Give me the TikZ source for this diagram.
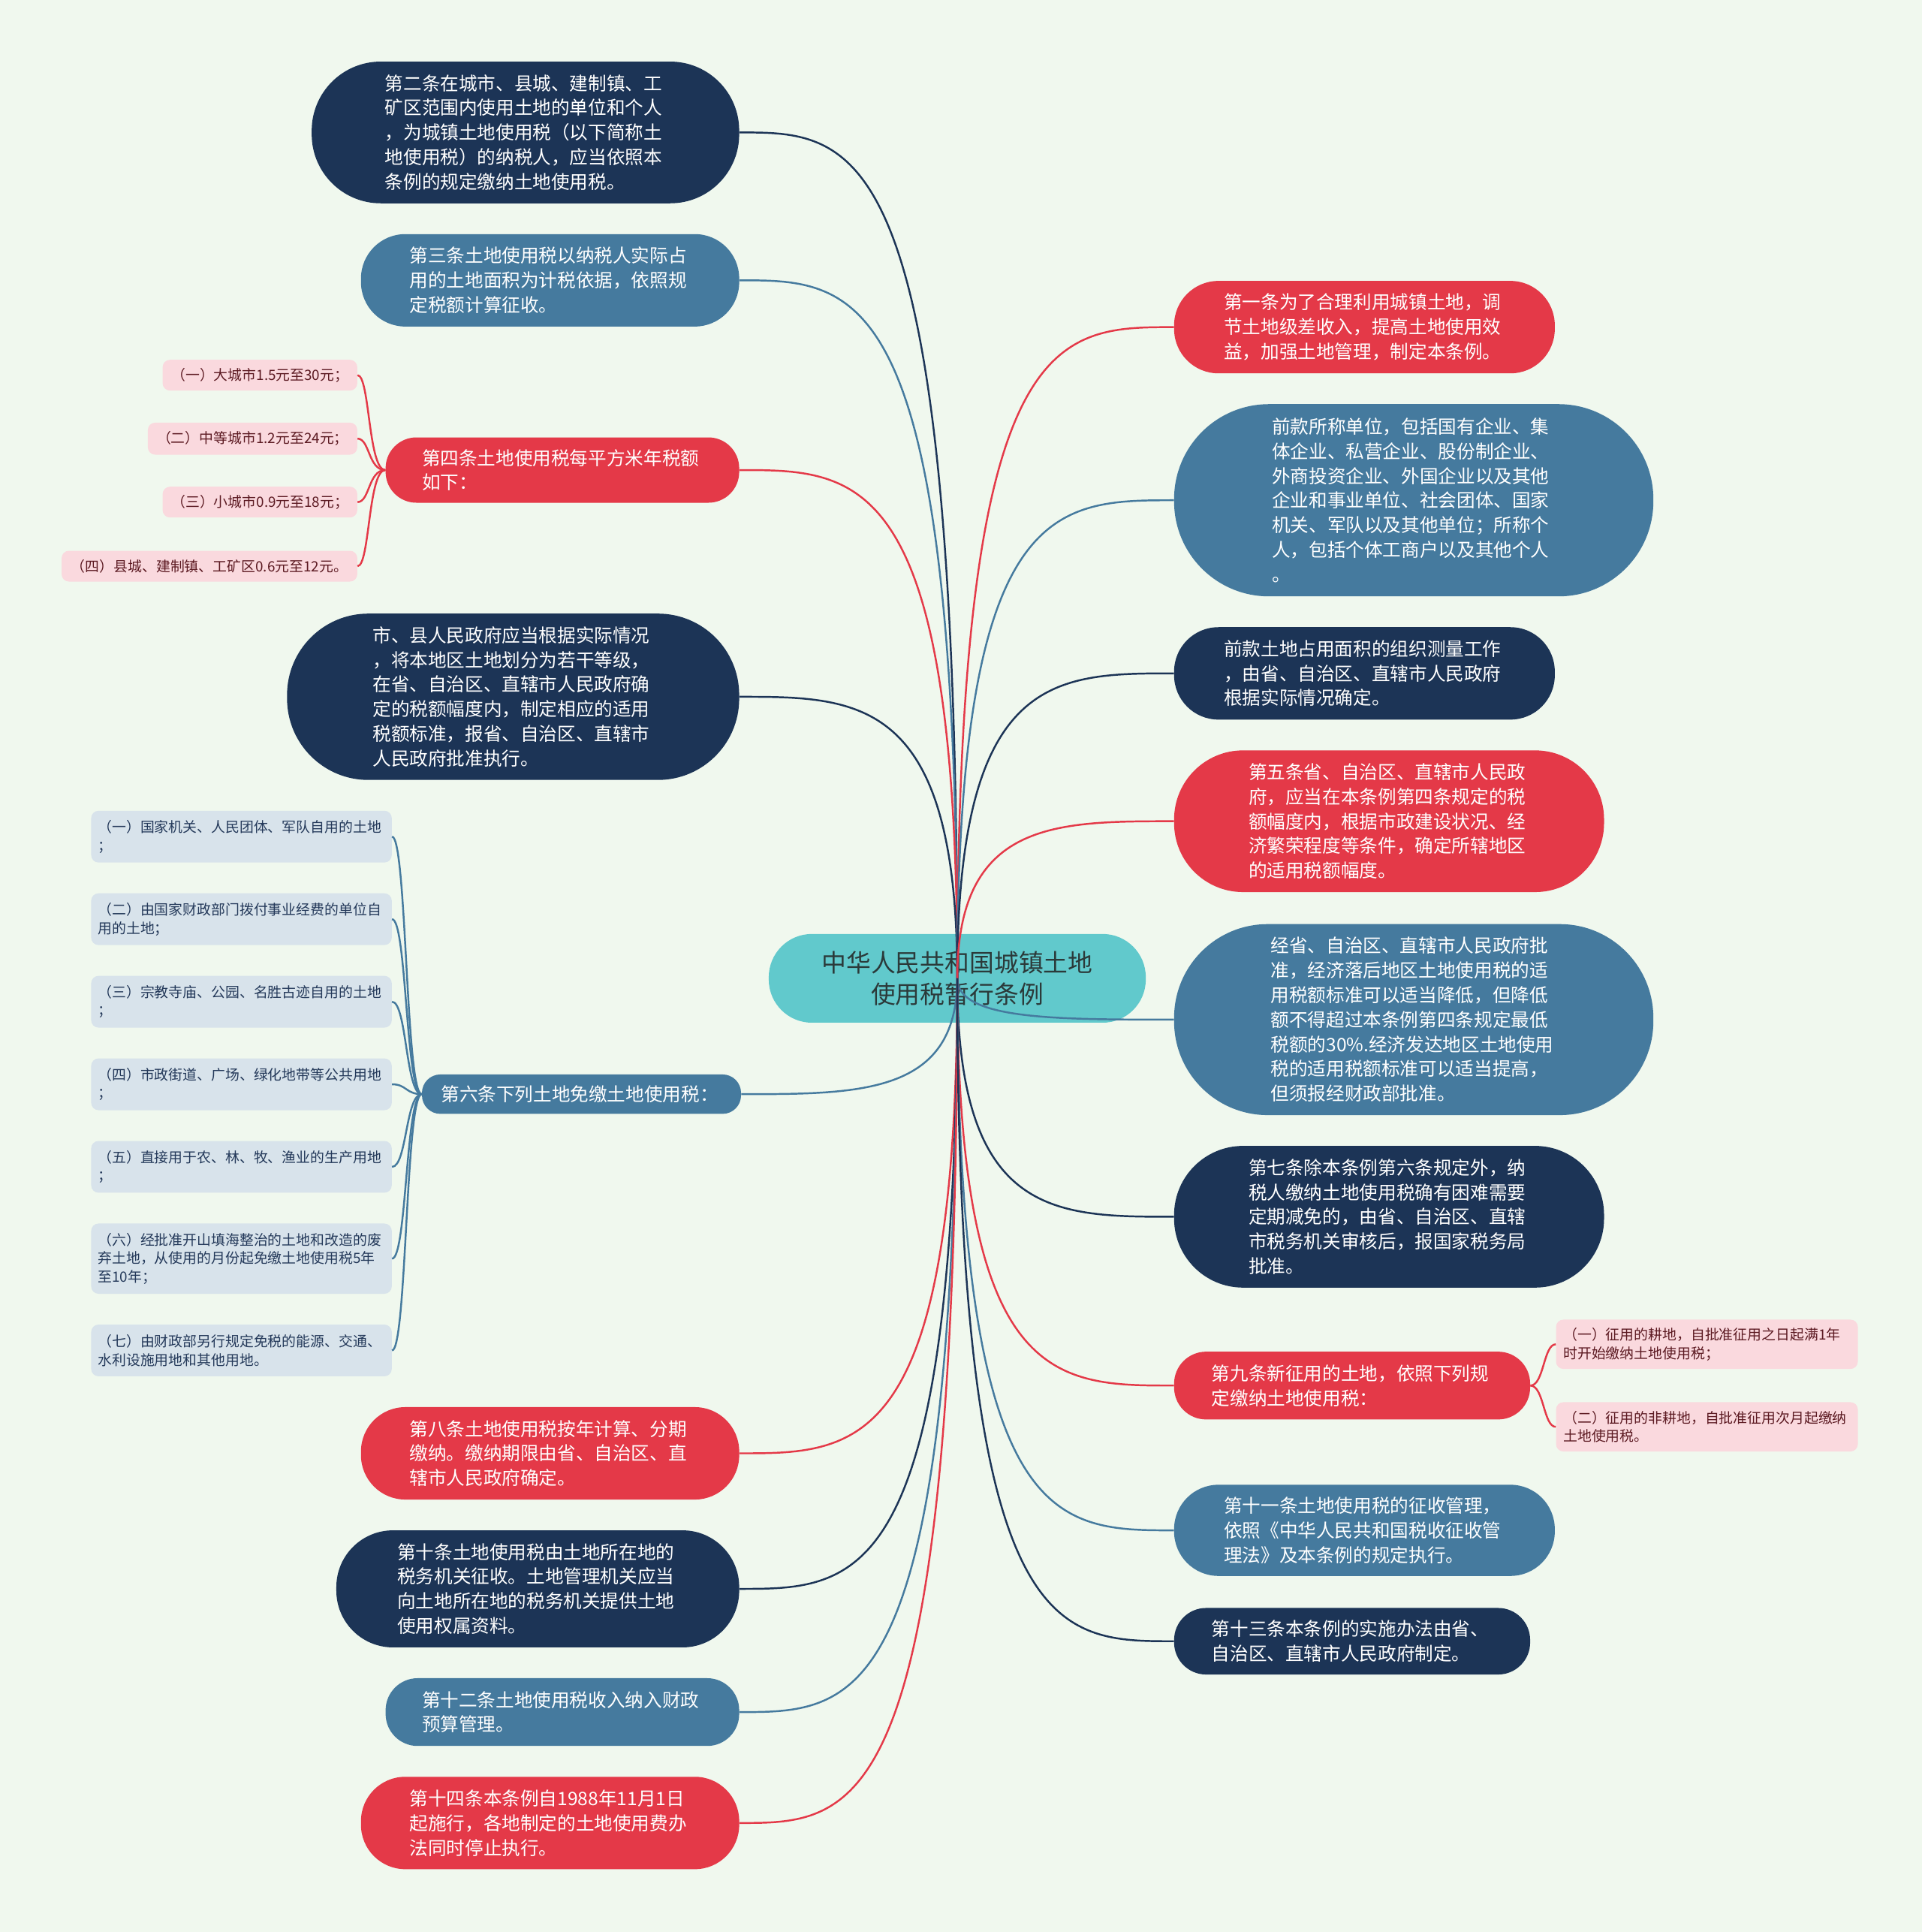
\documentclass[tikz,border=0pt]{standalone}
\usepackage{fontspec}
\setmainfont{Noto Sans CJK SC}
\usetikzlibrary{calc}
\definecolor{bgc}{HTML}{F0F8EE}
\definecolor{navyc}{HTML}{1C3456}
\definecolor{bluec}{HTML}{457A9E}
\definecolor{redc}{HTML}{E43948}
\definecolor{tealc}{HTML}{61C9CC}
\definecolor{pinkc}{HTML}{FAD9DE}
\definecolor{pinktext}{HTML}{5C1A22}
\definecolor{greyc}{HTML}{D8E3EB}
\definecolor{greytext}{HTML}{24395A}
\definecolor{centertext}{HTML}{2B3A3A}
\begin{document}
\begin{tikzpicture}[x=1pt,y=-1pt,
  mb/.style={rectangle, inner sep=0pt, text=white, align=left, font=\fontsize{15}{20}\selectfont},
  kidp/.style={rectangle, rounded corners=6pt, inner sep=0pt, align=left, fill=pinkc, text=pinktext, font=\fontsize{11.5}{15}\selectfont},
  kidg/.style={rectangle, rounded corners=6pt, inner sep=0pt, align=left, fill=greyc, text=greytext, font=\fontsize{11.5}{15}\selectfont},
  conn/.style={line width=1.5pt}]
\fill[bgc] (0,0) rectangle (1560,1568);
\useasboundingbox (0,0) rectangle (1560,1568);

% center
\node[rectangle, fill=tealc, text=centertext, align=center, inner sep=0pt,
  minimum width=306pt, minimum height=72pt, rounded corners=35pt,
  font=\fontsize{20}{26}\selectfont] (c) at (777,794) {中华人民共和国城镇土地\\使用税暂行条例};

% left main nodes
\node[mb, fill=navyc, minimum width=347pt, minimum height=115pt, rounded corners=56pt, text width=228pt] (l1) at (426.5,107.5)
 {第二条在城市、县城、建制镇、工\\矿区范围内使用土地的单位和个人\\，为城镇土地使用税（以下简称土\\地使用税）的纳税人，应当依照本\\条例的规定缴纳土地使用税。};
\node[mb, fill=bluec, minimum width=307pt, minimum height=75pt, rounded corners=36pt, text width=228pt] (l2) at (446.5,227.5)
 {第三条土地使用税以纳税人实际占\\用的土地面积为计税依据，依照规\\定税额计算征收。};
\node[mb, fill=redc, minimum width=287pt, minimum height=53pt, rounded corners=25pt, text width=228pt] (l3) at (456.5,381.5)
 {第四条土地使用税每平方米年税额\\如下：};
\node[mb, fill=navyc, minimum width=367pt, minimum height=135pt, rounded corners=66pt, text width=228pt] (l4) at (416.5,565.5)
 {市、县人民政府应当根据实际情况\\，将本地区土地划分为若干等级，\\在省、自治区、直辖市人民政府确\\定的税额幅度内，制定相应的适用\\税额标准，报省、自治区、直辖市\\人民政府批准执行。};
\node[mb, fill=bluec, minimum width=259pt, minimum height=32pt, rounded corners=15pt, text width=228pt] (l5) at (472,888)
 {第六条下列土地免缴土地使用税：};
\node[mb, fill=redc, minimum width=307pt, minimum height=75pt, rounded corners=36pt, text width=228pt] (l6) at (446.5,1179.5)
 {第八条土地使用税按年计算、分期\\缴纳。缴纳期限由省、自治区、直\\辖市人民政府确定。};
\node[mb, fill=navyc, minimum width=327pt, minimum height=95pt, rounded corners=46pt, text width=228pt] (l7) at (436.5,1289.5)
 {第十条土地使用税由土地所在地的\\税务机关征收。土地管理机关应当\\向土地所在地的税务机关提供土地\\使用权属资料。};
\node[mb, fill=bluec, minimum width=287pt, minimum height=55pt, rounded corners=26pt, text width=228pt] (l8) at (456.5,1389.5)
 {第十二条土地使用税收入纳入财政\\预算管理。};
\node[mb, fill=redc, minimum width=307pt, minimum height=75pt, rounded corners=36pt, text width=228pt] (l9) at (446.5,1479.5)
 {第十四条本条例自1988年11月1日\\起施行，各地制定的土地使用费办\\法同时停止执行。};

% right main nodes
\node[mb, fill=redc, minimum width=309pt, minimum height=75pt, rounded corners=36pt, text width=228pt] (r1) at (1107.5,265.5)
 {第一条为了合理利用城镇土地，调\\节土地级差收入，提高土地使用效\\益，加强土地管理，制定本条例。};
\node[mb, fill=bluec, minimum width=389pt, minimum height=156pt, rounded corners=77pt, text width=230pt] (r2) at (1147.5,406)
 {前款所称单位，包括国有企业、集\\体企业、私营企业、股份制企业、\\外商投资企业、外国企业以及其他\\企业和事业单位、社会团体、国家\\机关、军队以及其他单位；所称个\\人，包括个体工商户以及其他个人\\。};
\node[mb, fill=navyc, minimum width=309pt, minimum height=75pt, rounded corners=36pt, text width=228pt] (r3) at (1107.5,546.5)
 {前款土地占用面积的组织测量工作\\，由省、自治区、直辖市人民政府\\根据实际情况确定。};
\node[mb, fill=redc, minimum width=349pt, minimum height=115pt, rounded corners=56pt, text width=228pt] (r4) at (1127.5,666.5)
 {第五条省、自治区、直辖市人民政\\府，应当在本条例第四条规定的税\\额幅度内，根据市政建设状况、经\\济繁荣程度等条件，确定所辖地区\\的适用税额幅度。};
\node[mb, fill=bluec, minimum width=389pt, minimum height=155pt, rounded corners=76pt, text width=232pt] (r5) at (1147.5,827.5)
 {经省、自治区、直辖市人民政府批\\准，经济落后地区土地使用税的适\\用税额标准可以适当降低，但降低\\额不得超过本条例第四条规定最低\\税额的30\%.经济发达地区土地使用\\税的适用税额标准可以适当提高，\\但须报经财政部批准。};
\node[mb, fill=navyc, minimum width=349pt, minimum height=115pt, rounded corners=56pt, text width=228pt] (r6) at (1127.5,987.5)
 {第七条除本条例第六条规定外，纳\\税人缴纳土地使用税确有困难需要\\定期减免的，由省、自治区、直辖\\市税务机关审核后，报国家税务局\\批准。};
\node[mb, fill=redc, minimum width=289pt, minimum height=55pt, rounded corners=26pt, text width=228pt] (r7) at (1097.5,1124.5)
 {第九条新征用的土地，依照下列规\\定缴纳土地使用税：};
\node[mb, fill=bluec, minimum width=309pt, minimum height=74pt, rounded corners=36pt, text width=228pt] (r8) at (1107.5,1242)
 {第十一条土地使用税的征收管理，\\依照《中华人民共和国税收征收管\\理法》及本条例的规定执行。};
\node[mb, fill=navyc, minimum width=289pt, minimum height=54pt, rounded corners=26pt, text width=228pt] (r9) at (1097.5,1332)
 {第十三条本条例的实施办法由省、\\自治区、直辖市人民政府制定。};

% children of l3
\node[kidp, minimum width=158pt, minimum height=25pt] (k1) at (211,304.5) {（一）大城市1.5元至30元；};
\node[kidp, minimum width=170pt, minimum height=26pt] (k2) at (205,356) {（二）中等城市1.2元至24元；};
\node[kidp, minimum width=158pt, minimum height=25pt] (k3) at (211,407.5) {（三）小城市0.9元至18元；};
\node[kidp, minimum width=240pt, minimum height=25pt] (k4) at (170,459.5) {（四）县城、建制镇、工矿区0.6元至12元。};

% children of l5
\node[kidg, minimum width=244pt, minimum height=42pt, text width=233pt] (b1) at (196,679) {（一）国家机关、人民团体、军队自用的土地\\；};
\node[kidg, minimum width=244pt, minimum height=42pt, text width=233pt] (b2) at (196,746) {（二）由国家财政部门拨付事业经费的单位自\\用的土地；};
\node[kidg, minimum width=244pt, minimum height=42pt, text width=233pt] (b3) at (196,813) {（三）宗教寺庙、公园、名胜古迹自用的土地\\；};
\node[kidg, minimum width=244pt, minimum height=42pt, text width=233pt] (b4) at (196,880) {（四）市政街道、广场、绿化地带等公共用地\\；};
\node[kidg, minimum width=244pt, minimum height=42pt, text width=233pt] (b5) at (196,947) {（五）直接用于农、林、牧、渔业的生产用地\\；};
\node[kidg, minimum width=244pt, minimum height=57pt, text width=233pt] (b6) at (196,1021.5) {（六）经批准开山填海整治的土地和改造的废\\弃土地，从使用的月份起免缴土地使用税5年\\至10年；};
\node[kidg, minimum width=244pt, minimum height=42pt, text width=233pt] (b7) at (196,1096) {（七）由财政部另行规定免税的能源、交通、\\水利设施用地和其他用地。};

% children of r7
\node[kidp, minimum width=245pt, minimum height=40pt, text width=233pt] (p1) at (1385.5,1091) {（一）征用的耕地，自批准征用之日起满1年\\时开始缴纳土地使用税；};
\node[kidp, minimum width=245pt, minimum height=40pt, text width=233pt] (p2) at (1385.5,1158) {（二）征用的非耕地，自批准征用次月起缴纳\\土地使用税。};

% connectors center -> main
\foreach \n/\col in {l1/navyc,l2/bluec,l3/redc,l4/navyc,l5/bluec,l6/redc,l7/navyc,l8/bluec,l9/redc}
  \draw[conn, draw=\col] (c.center) .. controls (c.center |- \n.east) and ([xshift=97pt]\n.east) .. (\n.east);
\foreach \n/\col in {r1/redc,r2/bluec,r3/navyc,r4/redc,r5/bluec,r6/navyc,r7/redc,r8/bluec,r9/navyc}
  \draw[conn, draw=\col] (c.center) .. controls (c.center |- \n.west) and ([xshift=-97pt]\n.west) .. (\n.west);

% brackets
\foreach \k in {k1,k2,k3,k4}
  \draw[conn, draw=redc] (l3.west) .. controls ([xshift=-14pt]l3.west) and ([xshift=10pt]\k.east) .. (\k.east);
\foreach \k in {b1,b2,b3,b4,b5,b6,b7}
  \draw[conn, draw=bluec] (l5.west) .. controls ([xshift=-13pt]l5.west) and ([xshift=12pt]\k.east) .. (\k.east);
\foreach \k in {p1,p2}
  \draw[conn, draw=redc] (r7.east) .. controls ([xshift=11pt]r7.east) and ([xshift=-10pt]\k.west) .. (\k.west);
\end{tikzpicture}
\end{document}
